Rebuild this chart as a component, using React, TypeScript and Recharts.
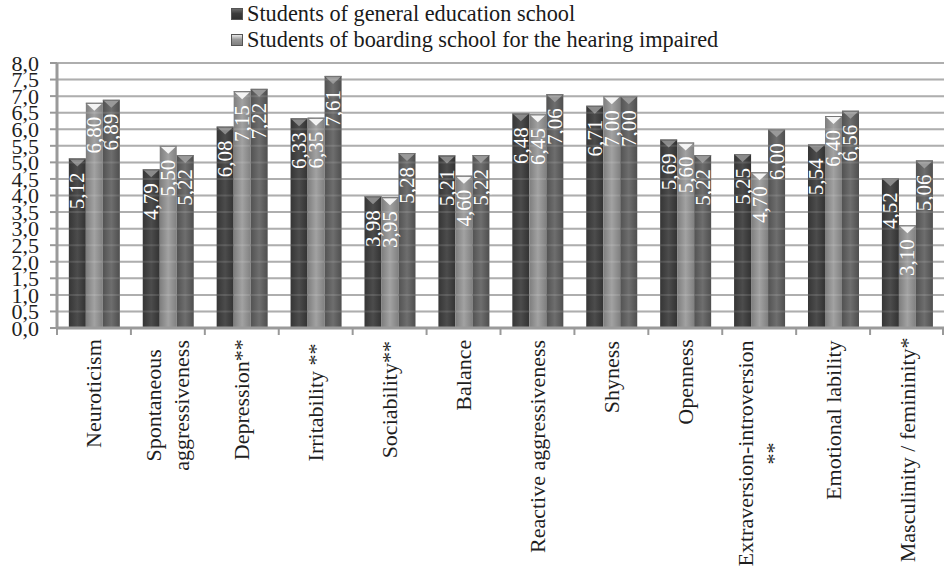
import React from 'react';
import { BarChart, Bar, XAxis, YAxis, CartesianGrid, LabelList, ReferenceLine } from 'recharts';

const categories = [
  'Neuroticism',
  'Spontaneous\naggressiveness',
  'Depression**',
  'Irritability **',
  'Sociability**',
  'Balance',
  'Reactive aggressiveness',
  'Shyness',
  'Openness',
  'Extraversion-introversion\n**',
  'Emotional lability',
  'Masculinity / femininity*',
];
const generalSchool = [5.12, 4.79, 6.08, 6.33, 3.98, 5.21, 6.48, 6.71, 5.69, 5.25, 5.54, 4.52];
const boardingSchool = [6.8, 5.5, 7.15, 6.35, 3.95, 4.6, 6.45, 7.0, 5.6, 4.7, 6.4, 3.1];
const thirdSeries = [6.89, 5.22, 7.22, 7.61, 5.28, 5.22, 7.06, 7.0, 5.22, 6.0, 6.56, 5.06];
const yTicks = [0, 0.5, 1, 1.5, 2, 2.5, 3, 3.5, 4, 4.5, 5, 5.5, 6, 6.5, 7, 7.5, 8];
const legendLabels = [
  'Students of general education school',
  'Students of boarding school for the hearing impaired',
];

const data = categories.map((c, i) => ({
  category: c,
  general: generalSchool[i],
  boarding: boardingSchool[i],
  third: thirdSeries[i],
}));

const FONT = '"Liberation Serif", "Times New Roman", Times, serif';
const W = 945;
const H = 583;
const MARGIN = { top: 63, right: 1, bottom: 0, left: 0 };
const Y_AXIS_W = 57;
const X_AXIS_H = H - 328;
const BAND = (W - MARGIN.left - MARGIN.right - Y_AXIS_W) / categories.length;

// approximate Times-metric glyph widths (per 1000 em)
const CW: Record<string, number> = {
  a: 444, b: 500, c: 444, d: 500, e: 444, f: 333, g: 500, h: 500, i: 278, j: 278, k: 500, l: 278, m: 778,
  n: 500, o: 500, p: 500, q: 500, r: 333, s: 389, t: 278, u: 500, v: 500, w: 722, x: 500, y: 500, z: 444,
  ' ': 250, '-': 333, '*': 500, '/': 278,
};
const textWidth = (t: string, size: number) =>
  t.split('').reduce((s, ch) => s + (CW[ch] ?? 650), 0) * size / 1000;

const fmt = (v: number) => v.toFixed(2).replace('.', ',');
const fmt1 = (v: number) => v.toFixed(1).replace('.', ',');

const makeShape = (fill: string, cap: string) => (props: any) => {
  const { x, y, width, height } = props;
  if (!height || height <= 0) return null;
  return (
    <g>
      <rect x={x} y={y} width={width} height={height} fill={fill} />
      <path
        d={`M${x + 1},${y + 1} L${x + width - 1},${y + 1} L${x + width / 2},${y + 8} Z`}
        fill={cap}
      />
      <line x1={x} y1={y + 0.5} x2={x + width} y2={y + 0.5} stroke="#777" strokeWidth={1} />
    </g>
  );
};

const renderValueLabel = (props: any) => {
  const { x, y, width, value } = props;
  const cx = x + width / 2;
  const ty = y + 14;
  return (
    <text
      x={cx}
      y={ty}
      transform={`rotate(-90 ${cx} ${ty})`}
      textAnchor="end"
      dominantBaseline="central"
      fill="#ffffff"
      style={{ fontFamily: FONT, fontSize: 21 }}
    >
      {fmt(value)}
    </text>
  );
};

const CategoryTick = (props: any) => {
  const { x, y, payload, index } = props;
  const lines = String(payload.value).split('\n');
  const size = 22;
  const maxW = Math.max(...lines.map((l) => textWidth(l, size)));
  const lh = 28;
  const top = y + 12;
  const left = x - BAND / 2;
  const right = x + BAND / 2;
  return (
    <g>
      <line x1={left} y1={y} x2={left} y2={y + 7} stroke="#999" strokeWidth={2} />
      {index === categories.length - 1 && (
        <line x1={right - 1} y1={y} x2={right - 1} y2={y + 7} stroke="#999" strokeWidth={2} />
      )}
      <g transform={`translate(${x},${top + maxW / 2}) rotate(-90)`}>
        {lines.map((l, i) => (
          <text
            key={i}
            x={0}
            y={(i - (lines.length - 1) / 2) * lh}
            textAnchor="middle"
            dominantBaseline="central"
            fill="#1e1e1e"
            style={{ fontFamily: FONT, fontSize: size }}
          >
            {l}
          </text>
        ))}
      </g>
    </g>
  );
};

const LegendBox = () => (
  <div
    style={{
      position: 'absolute',
      left: 231,
      top: 1,
      fontFamily: FONT,
      fontSize: 22.3,
      color: '#1a1a1a',
      lineHeight: '26px',
    }}
  >
    {legendLabels.map((l, i) => (
      <div key={i} style={{ display: 'flex', alignItems: 'center', whiteSpace: 'nowrap' }}>
        <span
          style={{
            display: 'inline-block',
            width: 12,
            height: 12,
            marginRight: 4,
            background:
              i === 0
                ? 'linear-gradient(to bottom, #6a6a6a 0%, #3c3c3c 45%, #303030 100%)'
                : 'linear-gradient(to bottom, #e8e8e8 0%, #9a9a9a 45%, #808080 100%)',
            border: '1px solid #555',
            boxSizing: 'border-box',
          }}
        />
        <span>{l}</span>
      </div>
    ))}
  </div>
);

export default function App() {
  return (
    <div style={{ position: 'absolute', left: 0, top: 0, width: W, height: H, background: '#fff', fontFamily: FONT }}>
      <BarChart
        width={W}
        height={H}
        data={data}
        margin={MARGIN}
        barCategoryGap="16%"
        barGap={0}
      >
        <defs>
          <linearGradient id="gDark" x1="0" y1="0" x2="1" y2="0">
            <stop offset="0%" stopColor="#353535" />
            <stop offset="50%" stopColor="#4c4c4c" />
            <stop offset="100%" stopColor="#323232" />
          </linearGradient>
          <linearGradient id="gLight" x1="0" y1="0" x2="1" y2="0">
            <stop offset="0%" stopColor="#7d7d7d" />
            <stop offset="50%" stopColor="#a2a2a2" />
            <stop offset="100%" stopColor="#808080" />
          </linearGradient>
          <linearGradient id="gMid" x1="0" y1="0" x2="1" y2="0">
            <stop offset="0%" stopColor="#525252" />
            <stop offset="50%" stopColor="#6e6e6e" />
            <stop offset="100%" stopColor="#4e4e4e" />
          </linearGradient>
        </defs>
        <CartesianGrid vertical={false} stroke="#a3a3a3" strokeWidth={2} />
        <XAxis
          dataKey="category"
          height={X_AXIS_H}
          interval={0}
          tickLine={false}
          tickSize={0}
          tickMargin={0}
          axisLine={{ stroke: '#9a9a9a', strokeWidth: 3 }}
          tick={<CategoryTick />}
        />
        <YAxis
          width={Y_AXIS_W}
          domain={[0, 8]}
          ticks={yTicks}
          interval={0}
          tickFormatter={fmt1}
          tickSize={7}
          tickMargin={11}
          tickLine={{ stroke: '#999', strokeWidth: 2 }}
          axisLine={{ stroke: '#9a9a9a', strokeWidth: 3 }}
          tick={{ fontSize: 22, fill: '#1e1e1e', style: { fontFamily: FONT } }}
        />
        <Bar dataKey="general" name={legendLabels[0]} isAnimationActive={false} shape={makeShape('url(#gDark)', '#8a8a8a')}>
          <LabelList dataKey="general" content={renderValueLabel} />
        </Bar>
        <Bar dataKey="boarding" name={legendLabels[1]} isAnimationActive={false} shape={makeShape('url(#gLight)', '#f4f4f4')}>
          <LabelList dataKey="boarding" content={renderValueLabel} />
        </Bar>
        <Bar dataKey="third" name="Third group" isAnimationActive={false} shape={makeShape('url(#gMid)', '#999999')}>
          <LabelList dataKey="third" content={renderValueLabel} />
        </Bar>
        {yTicks.slice(1).map((t) => (
          <ReferenceLine key={t} y={t} stroke="#ffffff" strokeOpacity={0.12} strokeWidth={2} />
        ))}
      </BarChart>
      <LegendBox />
    </div>
  );
}
